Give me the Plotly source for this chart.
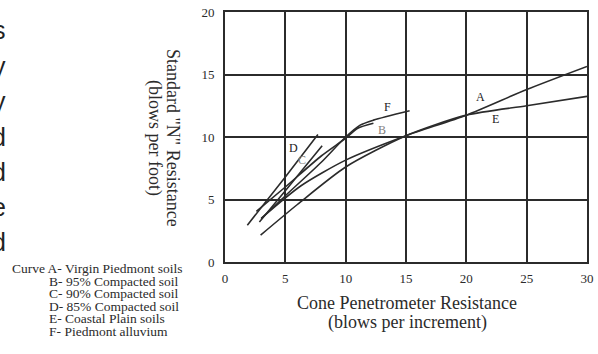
import plotly.graph_objects as go

# ---------------- data ----------------
x_ticks = [0, 5, 10, 15, 20, 25, 30]
y_ticks = [0, 5, 10, 15, 20]

curve_names = ["A", "B", "C", "D", "E", "F"]

a_x = [3.0, 6.3, 10.0, 15.0, 20.0, 25.0, 30.0]
a_y = [3.5, 6.1, 8.15, 10.1, 11.75, 13.8, 15.65]

b_x = [2.6, 5.0, 8.0, 10.0, 11.0, 12.3]
b_y = [4.05, 6.0, 8.5, 9.9, 10.7, 11.1]

c_x = [2.85, 5.0, 8.05]
c_y = [3.2, 5.7, 9.3]

d_x = [1.85, 5.0, 7.7]
d_y = [2.95, 6.8, 10.2]

e_x = [2.95, 6.0, 10.0, 15.0, 20.0, 25.0, 30.0]
e_y = [2.15, 4.6, 7.6, 10.1, 11.75, 12.5, 13.25]

f_x = [3.0, 5.0, 8.0, 10.0, 11.2, 12.3, 15.3]
f_y = [3.45, 5.3, 8.0, 10.0, 10.95, 11.35, 12.1]

label_x = [21.2, 13.0, 6.35, 5.66, 22.45, 13.5]
label_y = [13.2, 10.56, 8.15, 9.1, 11.45, 12.4]

legend_lines = [
    "Curve A- Virgin Piedmont soils",
    "B- 95% Compacted soil",
    "C- 90% Compacted soil",
    "D- 85% Compacted soil",
    "E- Coastal Plain soils",
    "F- Piedmont alluvium",
]

edge_letters = ["s", "y", "y", "d", "d", "e", "d"]

# ---------------- layout helpers ----------------
W, H = 598, 354
L, R, T, B = 225, 11, 12, 92
PW = W - L - R
PH = H - T - B


def pxx(x):
    return (x - L) / PW


def pxy(y):
    return (H - B - y) / PH


INK = "#2b2b2b"
SERIF = "Liberation Serif, Times New Roman, serif"

fig = go.Figure()
series = [(a_x, a_y), (b_x, b_y), (c_x, c_y), (d_x, d_y), (e_x, e_y), (f_x, f_y)]
for name, (xs, ys) in zip(curve_names, series):
    fig.add_trace(go.Scatter(
        x=xs, y=ys, mode="lines", name=name,
        line=dict(color=INK, width=1.6, shape="spline", smoothing=0.7),
        showlegend=False, hoverinfo="skip",
    ))

annotations = []
label_colors = ["#1a1a1a", "#808080", "#808080", "#1a1a1a", "#1a1a1a", "#1a1a1a"]
for name, lx, ly, col in zip(curve_names, label_x, label_y, label_colors):
    annotations.append(dict(x=lx, y=ly, xref="x", yref="y", text=name, showarrow=False,
                            xanchor="center", yanchor="middle",
                            font=dict(family=SERIF, size=12, color=col)))

# axis titles
title_specs = [
    (407, 303, "Cone Penetrometer Resistance", 0),
    (407, 322, "(blows per increment)", 0),
    (173, 138, 'Standard "N" Resistance', 90),
    (155, 138, "(blows per foot)", 90),
]
for tx, ty, t, ang in title_specs:
    annotations.append(dict(x=pxx(tx), y=pxy(ty), xref="paper", yref="paper",
                            text=t, showarrow=False, textangle=ang,
                            xanchor="center", yanchor="middle",
                            font=dict(family=SERIF, size=18, color=INK)))

# legend block
leg_y = [268, 281, 293, 306, 318, 331]
leg_x = [10, 47, 47, 47, 47, 47]
for t, lx, ly in zip(legend_lines, leg_x, leg_y):
    annotations.append(dict(x=pxx(lx), y=pxy(ly), xref="paper", yref="paper", text=t,
                            showarrow=False, xanchor="left", yanchor="middle",
                            font=dict(family=SERIF, size=13.5, color=INK)))

# clipped letters at the left edge (from the scanned page)
edge_y = [30, 66, 101, 137, 172, 207, 242]
for ch, ey in zip(edge_letters, edge_y):
    annotations.append(dict(x=pxx(8), y=pxy(ey), xref="paper", yref="paper", text=ch,
                            showarrow=False, xanchor="right", yanchor="middle",
                            font=dict(family="Liberation Sans, Arial, sans-serif", size=25, color="#222")))

fig.update_layout(
    width=W, height=H,
    margin=dict(l=L, r=R, t=T, b=B, pad=0, autoexpand=False),
    paper_bgcolor="white", plot_bgcolor="white",
    annotations=annotations,
    xaxis=dict(range=[0, 30], tickvals=x_ticks, ticktext=[str(v) for v in x_ticks],
               showgrid=True, gridcolor=INK, gridwidth=2, zeroline=False,
               showline=True, linecolor=INK, linewidth=2, mirror=True,
               ticks="outside", ticklen=3, tickcolor="rgba(0,0,0,0)",
               tickfont=dict(family=SERIF, size=13, color=INK), fixedrange=True),
    yaxis=dict(range=[0, 20], tickvals=y_ticks, ticktext=[str(v) for v in y_ticks],
               showgrid=True, gridcolor=INK, gridwidth=2, zeroline=False,
               showline=True, linecolor=INK, linewidth=2, mirror=True,
               ticks="outside", ticklen=6, tickcolor="rgba(0,0,0,0)",
               tickfont=dict(family=SERIF, size=13, color=INK), fixedrange=True),
)

fig.write_html(
    "out.html",
    config={"displayModeBar": False, "staticPlot": True},
    post_script="document.body.style.margin='0';document.body.style.overflow='hidden';",
)
